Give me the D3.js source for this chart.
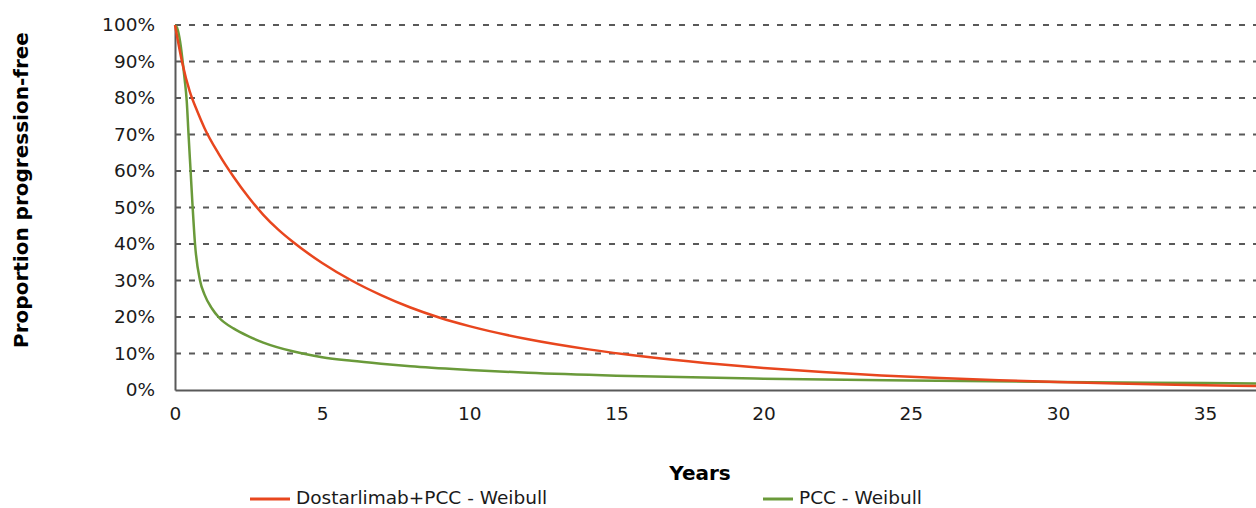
<!DOCTYPE html>
<html>
<head>
<meta charset="utf-8">
<script src="https://cdn.jsdelivr.net/npm/d3@7"></script>
<style>
  html, body { margin: 0; padding: 0; background: #fff; overflow: hidden; }
  svg { display: block; font-family: "DejaVu Sans", Verdana, sans-serif; }
</style>
</head>
<body>
<svg id="chart" width="1256" height="508"></svg>
<script>
// ---- Data ----
const seriesNames = ["Dostarlimab+PCC - Weibull", "PCC - Weibull"];
const seriesColors = ["#e8461e", "#6a9a3a"];

const dostarYears = [0, 0.25, 0.5, 0.75, 1, 1.5, 2, 2.5, 3, 3.5, 4, 5, 6, 7, 8, 9, 10, 12, 14, 16, 18, 20, 22, 24, 26, 28, 30, 32, 34, 36, 38, 40];
const dostarValues = [1.0, 0.895, 0.818, 0.765, 0.718, 0.645, 0.583, 0.528, 0.480, 0.440, 0.406, 0.348, 0.300, 0.260, 0.226, 0.198, 0.175, 0.139, 0.112, 0.091, 0.074, 0.060, 0.049, 0.040, 0.033, 0.027, 0.022, 0.018, 0.0145, 0.0118, 0.0096, 0.0078];

const pccYears = [0, 0.1, 0.2, 0.26, 0.33, 0.4, 0.46, 0.53, 0.6, 0.68, 0.85, 1.0, 1.25, 1.5, 2, 2.5, 3, 4, 5, 6, 7, 8, 10, 12, 15, 20, 25, 30, 35, 40];
const pccValues = [1.0, 0.985, 0.94, 0.90, 0.85, 0.79, 0.70, 0.60, 0.50, 0.40, 0.30, 0.262, 0.224, 0.198, 0.168, 0.147, 0.130, 0.106, 0.090, 0.080, 0.072, 0.065, 0.055, 0.047, 0.039, 0.031, 0.026, 0.022, 0.019, 0.016];

const xTicks = [0, 5, 10, 15, 20, 25, 30, 35];
const yTicks = [0, 0.1, 0.2, 0.3, 0.4, 0.5, 0.6, 0.7, 0.8, 0.9, 1.0];

// ---- Layout ----
const svg = d3.select("#chart");
const x = d3.scaleLinear().domain([0, 40]).range([175, 175 + 40 * 29.43]);
const y = d3.scaleLinear().domain([0, 1]).range([390, 25]);
const axisColor = "#595959";
const textFont = "DejaVu Sans, Verdana, sans-serif";

// gridlines
svg.append("g").selectAll("line")
  .data(yTicks.filter(d => d > 0))
  .join("line")
  .attr("x1", x(0)).attr("x2", 1256)
  .attr("y1", d => y(d)).attr("y2", d => y(d))
  .attr("stroke", axisColor).attr("stroke-width", 2)
  .attr("stroke-dasharray", "6,8");

// y axis
const yAxis = d3.axisLeft(y).tickValues(yTicks).tickFormat(d3.format(".0%")).tickSize(0).tickPadding(20);
const gy = svg.append("g").attr("transform", `translate(${x(0)},0)`).call(yAxis);
gy.select(".domain").attr("stroke", axisColor).attr("stroke-width", 2);
gy.selectAll("text").attr("font-size", 18.5).attr("fill", "#1a1a1a").attr("font-family", textFont);

// x axis
const xAxis = d3.axisBottom(x).tickValues(xTicks).tickSize(0).tickPadding(17);
const gx = svg.append("g").attr("transform", `translate(0,${y(0)})`).call(xAxis);
gx.select(".domain").attr("stroke", axisColor).attr("stroke-width", 2);
gx.selectAll("text").attr("font-size", 18.5).attr("fill", "#1a1a1a").attr("font-family", textFont);

// lines
const line = d3.line().x(d => x(d[0])).y(d => y(d[1])).curve(d3.curveMonotoneX);
svg.append("clipPath").attr("id", "plotclip").append("rect")
  .attr("x", x(0) - 2).attr("y", 0).attr("width", 1256).attr("height", 392);

const series = [
  d3.zip(dostarYears, dostarValues),
  d3.zip(pccYears, pccValues)
];
svg.append("g").attr("clip-path", "url(#plotclip)")
  .selectAll("path")
  .data([1, 0])
  .join("path")
  .attr("d", i => line(series[i]))
  .attr("fill", "none")
  .attr("stroke", i => seriesColors[i])
  .attr("stroke-width", 2.5)
  .attr("stroke-linejoin", "round");

// axis titles
svg.append("text")
  .attr("transform", "translate(28,190) rotate(-90)")
  .attr("text-anchor", "middle")
  .attr("font-size", 20).attr("font-weight", "bold").attr("fill", "#000")
  .text("Proportion progression-free");

svg.append("text")
  .attr("x", 700).attr("y", 480)
  .attr("text-anchor", "middle")
  .attr("font-size", 20).attr("font-weight", "bold").attr("fill", "#000")
  .text("Years");

// legend
const legendPos = [{lx: 250, len: 40}, {lx: 763, len: 30}];
const lg = svg.append("g").selectAll("g").data([0, 1]).join("g");
lg.append("line")
  .attr("x1", i => legendPos[i].lx).attr("x2", i => legendPos[i].lx + legendPos[i].len)
  .attr("y1", 499).attr("y2", 499)
  .attr("stroke", i => seriesColors[i]).attr("stroke-width", 3);
lg.append("text")
  .attr("x", i => legendPos[i].lx + legendPos[i].len + 6)
  .attr("y", 504)
  .attr("font-size", 18.5).attr("fill", "#1a1a1a")
  .text(i => seriesNames[i]);
</script>
</body>
</html>
